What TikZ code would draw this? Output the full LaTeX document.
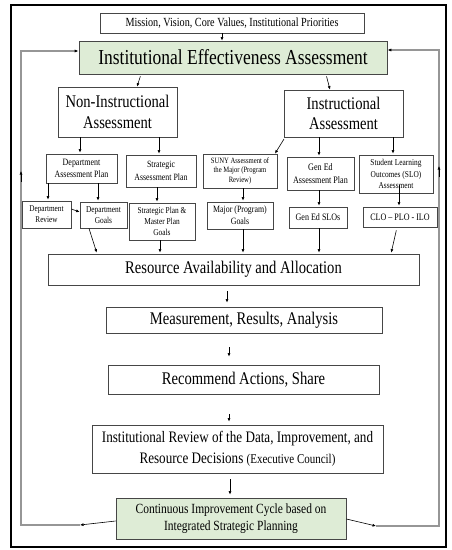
\documentclass[tikz,border=0pt]{standalone}
\usepackage{fontspec}
\setmainfont{Liberation Serif}[FakeStretch=0.82]
\usetikzlibrary{arrows.meta,calc}
\definecolor{ieagreen}{RGB}{222,236,214}
\definecolor{boxline}{RGB}{70,70,70}
\definecolor{loopline}{RGB}{150,150,150}
\newcommand{\fs}[2]{\fontsize{#1}{#2}\selectfont}
\begin{document}
\begin{tikzpicture}[x=1pt,y=-1pt,
  box/.style={draw=boxline,line width=0.8pt,fill=white,align=center,inner sep=0pt,text=black},
  greenbox/.style={box,fill=ieagreen},
  arr/.style={-{Latex[length=3.5pt,width=3pt]},line width=0.6pt,black},
  loopline/.style={draw=loopline,line width=1.3pt,-{Latex[length=4pt,width=3.2pt,color=black]}},
]
\useasboundingbox (0,0) rectangle (451,550);
% outer frame
\draw[line width=2.5pt,black] (11,5) rectangle (446,547);

% top level
\node[box,minimum width=264pt,minimum height=20pt,font=\fs{12.4}{14}] (mission) at (232,23)
  {Mission, Vision, Core Values, Institutional Priorities};
\node[greenbox,minimum width=308pt,minimum height=33pt,font=\fs{21.3}{24}] (iea) at (233,57.5)
  {Institutional Effectiveness Assessment};

% assessment branches
\node[box,minimum width=119pt,minimum height=50pt,font=\fs{17.8}{20.5}] (noninstr) at (117.5,112)
  {Non-Instructional\\Assessment};
\node[box,minimum width=119pt,minimum height=47pt,font=\fs{17.8}{20.5}] (instr) at (343.5,113.5)
  {Instructional\\Assessment};

% plans
\node[box,minimum width=71pt,minimum height=29pt,font=\fs{9.7}{12}] (dap) at (81.5,168.5)
  {Department\\Assessment Plan};
\node[box,minimum width=70pt,minimum height=32pt,font=\fs{9.6}{12.5}] (sap) at (161,171)
  {Strategic\\Assessment Plan};
\node[box,minimum width=74pt,minimum height=34pt,font=\fs{8.1}{9.8}] (suny) at (240,171)
  {SUNY Assessment of\\the Major (Program\\Review)};
\node[box,minimum width=67pt,minimum height=33pt,font=\fs{9.9}{12.5}] (geap) at (320.5,173.5)
  {Gen Ed\\Assessment Plan};
\node[box,minimum width=74pt,minimum height=38pt,font=\fs{9}{11.2}] (slo) at (396,174)
  {Student Learning\\Outcomes (SLO)\\Assessment};

% goals
\node[box,minimum width=49pt,minimum height=27pt,font=\fs{8.8}{10.8}] (drev) at (46.5,214.5)
  {Department\\Review};
\node[box,minimum width=47pt,minimum height=26pt,font=\fs{9}{10.8}] (dgoals) at (103.5,215)
  {Department\\Goals};
\node[box,minimum width=66pt,minimum height=37pt,font=\fs{9}{10.8}] (spmp) at (162,221.5)
  {Strategic Plan \&\\Master Plan\\Goals};
\node[box,minimum width=66pt,minimum height=27pt,font=\fs{9.6}{11.8}] (major) at (240,215.5)
  {Major (Program)\\Goals};
\node[box,minimum width=58pt,minimum height=21pt,font=\fs{9.8}{11}] (gesl) at (318,217.5)
  {Gen Ed SLOs};
\node[box,minimum width=74pt,minimum height=20pt,font=\fs{9.8}{11}] (clo) at (400,217)
  {CLO – PLO - ILO};

% main cycle
\node[box,minimum width=371pt,minimum height=31pt,font=\fs{17.8}{20}] (res) at (233.5,269.5)
  {Resource Availability and Allocation};
\node[box,minimum width=276pt,minimum height=26pt,font=\fs{17.8}{20}] (meas) at (244,320)
  {Measurement, Results, Analysis};
\node[box,minimum width=271pt,minimum height=29pt,font=\fs{17.8}{20}] (rec) at (243.5,379.5)
  {Recommend Actions, Share};
\node[box,minimum width=291pt,minimum height=48pt,font=\fs{16}{21}] (irev) at (237.5,449)
  {Institutional Review of the Data, Improvement, and\\Resource Decisions {\fs{13.4}{21}(Executive Council)}};
\node[greenbox,minimum width=230pt,minimum height=41pt,font=\fs{14}{16.5}] (cic) at (231,518.5)
  {Continuous Improvement Cycle based on\\Integrated Strategic Planning};

% connectors, top part
\draw[arr] (222,0 |- mission.south) -- (222,0 |- iea.north);
\draw[arr,shorten <=2pt] (141,0 |- iea.south) -- (137,0 |- noninstr.north);
\draw[arr,shorten <=2pt] (326,0 |- iea.south) -- (330,0 |- instr.north);
\draw[arr,shorten >=1pt] (80,0 |- noninstr.south) -- (80,0 |- dap.north);
\draw[arr,shorten >=1pt] (159,0 |- noninstr.south) -- (159,0 |- sap.north);
\draw[arr,shorten <=2pt] (285,0 |- instr.south) -- (275,0 |- suny.north);
\draw[arr,shorten >=1pt] (319,0 |- instr.south) -- (319,0 |- geap.north);
\draw[arr,shorten >=1pt] (393,0 |- instr.south) -- (393,0 |- slo.north);

% connectors, plans to goals
\draw[arr,shorten >=1pt] (48,0 |- dap.south) -- (48,0 |- drev.north);
\draw[arr,shorten >=1pt] (98,0 |- dap.south) -- (98,0 |- dgoals.north);
\draw[arr] ([yshift=5.5pt]drev.east) -- ([yshift=3pt]dgoals.west);
\draw[arr,shorten >=1pt] (157,0 |- sap.south) -- (157,0 |- spmp.north);
\draw[arr,shorten >=1pt] (243,0 |- suny.south) -- (243,0 |- major.north);
\draw[arr,shorten >=1pt] (319,0 |- geap.south) -- (319,0 |- gesl.north);
\draw[arr,shorten <=-8pt,shorten >=1pt] (399,0 |- slo.south) -- (399,0 |- clo.north);

% connectors, goals to resources
\draw[arr,shorten >=1pt] (89,0 |- dgoals.south) -- (97,0 |- res.north);
\draw[arr,shorten >=1pt] (160,0 |- spmp.south) -- (160,0 |- res.north);
\draw[arr,shorten >=1pt] (243,0 |- major.south) -- (243,0 |- res.north);
\draw[arr,shorten >=1pt] (319,0 |- gesl.south) -- (319,0 |- res.north);
\draw[arr,shorten <=3pt,shorten >=1pt] (397,0 |- clo.south) -- (391,0 |- res.north);

% main cycle arrows
\draw[arr,shorten <=6pt,shorten >=4pt] (227,0 |- res.south) -- (227,0 |- meas.north);
\draw[arr,shorten <=14pt,shorten >=8pt] (229,0 |- meas.south) -- (229,0 |- rec.north);
\draw[arr,shorten <=20pt,shorten >=3pt] (229,0 |- rec.south) -- (229,0 |- irev.north);
\draw[arr,shorten <=6pt,shorten >=3pt] (230,0 |- irev.south) -- (230,0 |- cic.north);

% feedback loop back to the assessment
\coordinate (lb) at (80,525);
\coordinate (rb) at (376,526);
\draw[arr] ([yshift=-2.5pt]cic.west) -- (lb);
\draw[loopline] (lb) -- (21,525) -- (21,51) -- (21,51 -| iea.west);
\draw[arr] (21,182) -- (21,171);
\draw[arr] ([yshift=-0.5pt]cic.east) -- (rb);
\draw[loopline] (rb) -- (439,526) -- (439,50) -- (439,50 -| iea.east);
\draw[arr] (439,177) -- (439,166);
\end{tikzpicture}
\end{document}
